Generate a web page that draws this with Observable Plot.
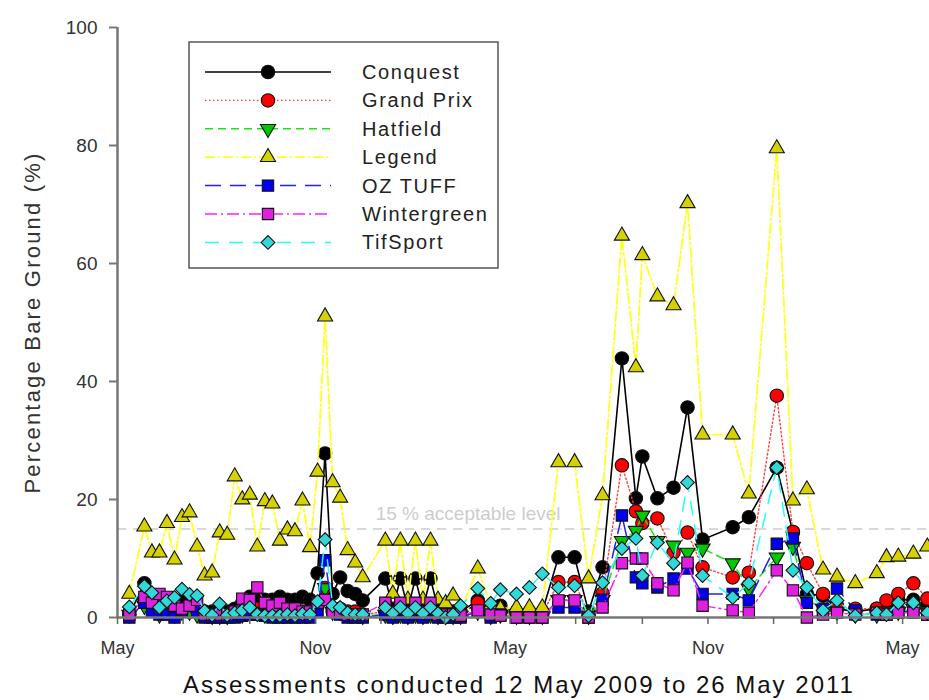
<!DOCTYPE html>
<html>
<head>
<meta charset="utf-8">
<script src="https://cdn.jsdelivr.net/npm/d3@7"></script>
<script src="https://cdn.jsdelivr.net/npm/@observablehq/plot@0.6"></script>
<style>
  body { margin: 0; background: #fff; font-family: "Liberation Sans", Arial, sans-serif; }
  #wrap { position: relative; width: 929px; height: 700px; overflow: hidden; }
  #caption { position: absolute; left: 183px; top: 671px; font-size: 24px; letter-spacing: 2px; color: #111; white-space: nowrap; }
</style>
</head>
<body>
<div id="wrap">
  <div id="chart"></div>
  <div id="caption">Assessments conducted 12 May 2009 to 26 May 2011</div>
</div>
<script>
// assessment dates
const dates = [
  "2009-05-12", "2009-05-26", "2009-06-02", "2009-06-09", "2009-06-16", "2009-06-23", "2009-06-30",
  "2009-07-07", "2009-07-14", "2009-07-21", "2009-07-28", "2009-08-04", "2009-08-11", "2009-08-18",
  "2009-08-25", "2009-09-01", "2009-09-08", "2009-09-15", "2009-09-22", "2009-09-29", "2009-10-06",
  "2009-10-13", "2009-10-20", "2009-10-27", "2009-11-03", "2009-11-10", "2009-11-17", "2009-11-24",
  "2009-12-01", "2009-12-08", "2009-12-15",
  "2010-01-05", "2010-01-12", "2010-01-19", "2010-01-26", "2010-02-02", "2010-02-09", "2010-02-16",
  "2010-02-23", "2010-03-02", "2010-03-09", "2010-03-16",
  "2010-04-01", "2010-04-13", "2010-04-22", "2010-05-07", "2010-05-19", "2010-05-31", "2010-06-15",
  "2010-06-30", "2010-07-13", "2010-07-26", "2010-08-13", "2010-08-26", "2010-09-01", "2010-09-15",
  "2010-09-30", "2010-10-13", "2010-10-27", "2010-11-24", "2010-12-09", "2011-01-04", "2011-01-19",
  "2011-02-01", "2011-02-16", "2011-03-01", "2011-03-18", "2011-04-07", "2011-04-16", "2011-04-27",
  "2011-05-11", "2011-05-24"
]

// percentage bare ground per cultivar
const conquest = [
  0.5, 5.8, 3, 1, 1.5, 2, 3, 2.5, 1.5, 1, 1, 1.5, 1, 1.5, 2.5, 3.5, 3.5, 3, 3, 3.5, 3, 3, 3.5, 3, 7.5, 27.8, 4, 6.8, 4.5, 4, 2.9,
  6.6, 1.5, 6.6, 1.5, 6.6, 1.5, 6.6, 1.5, 1, 1, 1,
  2.9, 1, 2, 1, 1, 1, 10.2, 10.2, 1, 8.5, 43.9, 20.2, 27.3, 20.2, 22, 35.6, 13.2, 15.3, 17, 25.4, 14.5, 4, 3.7, 1.5, 1, 1.5, 2, 3, 3, 2
]
const grandPrix = [
  0.5, 3, 2, 1, 1, 1, 1.5, 1, 1, 0.5, 0.5, 0.5, 0.5, 1, 1, 1.5, 1.5, 1, 1, 1, 1, 1, 1, 1, 2, 5, 1, 1.5, 1, 1, 0.5,
  1, 0.5, 1, 0.5, 1, 0.5, 1, 0.5, 0.5, 0.5, 0.5,
  2.5, 0.5, 1, 0.5, 0.5, 0.5, 6, 6, 0.5, 4.1, 25.8, 18, 16, 16.8, 11, 14.4, 8.5, 6.8, 7.6, 37.6, 14.5, 9.2, 4, 2, 1.5, 1.5, 2.9, 4, 5.8, 3.2
]
const hatfield = [
  0.5, 2, 1.5, 0.5, 1, 0.5, 1, 1, 0.5, 0.5, 0.3, 0.3, 0.3, 0.5, 0.5, 1, 1, 0.5, 0.5, 0.5, 0.5, 0.5, 0.5, 0.5, 1.5, 5, 1, 1, 0.5, 0.5, 0.3,
  0.5, 0.3, 0.5, 0.3, 0.5, 0.3, 0.5, 0.3, 0.3, 0.3, 0.3,
  1, 0.3, 0.5, 0.3, 0.3, 0.3, 3, 3, 0.3, 3, 13, 14.7, 17.3, 13, 12.2, 11, 11.7, 9.2, 4.9, 10.2, 12, 3, 1.5, 1, 0.5, 0.5, 1, 1, 1.5, 1
]
const legend = [
  4, 15.4, 11, 11, 16, 9.8, 17, 17.8, 12, 7.1, 7.6, 14.4, 14, 23.9, 20, 20.8, 12, 19.7, 19.3, 13, 14.9, 14.6, 19.8, 11.9, 24.7, 51, 22.9, 20.3, 11.4, 9.3, 6.8,
  13, 4, 13, 3, 13, 3, 13, 3, 2.4, 3.7, 1,
  8.3, 2, 1.5, 1.7, 1.7, 1.7, 26.3, 26.3, 6.6, 20.7, 64.7, 42.4, 61.4, 54.4, 52.9, 70.2, 31, 31, 21, 79.5, 19.8, 21.7, 8.1, 6.9, 5.8, 7.5, 10.2, 10.3, 10.8, 12
]
const ozTuff = [
  0, 2.5, 1, 0.5, 0.5, 0, 1.2, 2, 1, 0, 0, 0, 0, 0, 0.3, 0.5, 0.5, 0.3, 0, 0, 0, 0, 0, 0, 1, 9.7, 1, 0.5, 0, 0, 0,
  0.5, 0, 0.5, 0, 0.5, 0, 0.5, 0, 0, 0, 0,
  1, 0, 0.5, 0, 0, 0, 1.7, 1.7, 0, 3, 17.3, 6.8, 5.8, 5.1, 6.6, 8.3, 4, 4, 2.9, 12.5, 13.4, 2.5, 1.5, 4.9, 1.2, 0.5, 0.5, 1, 1, 0.5
]
const wintergreen = [
  0.5, 3.5, 2.5, 4, 3.5, 2, 1.5, 2, 3, 0.5, 0.5, 0.5, 0.5, 1, 3.2, 3, 5.1, 2.5, 2, 2.5, 1.5, 1.5, 1, 1, 2.5, 3, 1, 1, 0.5, 0.5, 0.5,
  2.5, 1, 2.5, 1, 2.5, 1, 2.5, 0.5, 0.5, 0.5, 0.3,
  1.2, 0.5, 0.3, 0, 0, 0, 2.9, 2.9, 0, 1.7, 9.2, 10, 10, 5.8, 4.6, 9.3, 2, 1.2, 0.8, 8, 4.6, 0, 0.5, 0.8, 0.5, 0.8, 0.5, 0.8, 0.8, 0.5
]
const tifSport = [
  1.8, 5.3, 4.2, 1.7, 2.8, 3.4, 4.8, 3.9, 3.7, 1.1, 0.4, 2.3, 0.4, 0.8, 1.2, 1.7, 0.5, 0.3, 0.3, 0.3, 0.5, 0.3, 0.6, 0.5, 2.7, 13.2, 2, 1.7, 0.8, 0.5, 0.5,
  1.7, 0.7, 1.7, 0.7, 1.7, 0.7, 1.7, 0.7, 0, 0.5, 2,
  4.9, 2.4, 4.7, 4, 5.1, 7.4, 5.1, 5.4, 0.3, 5.9, 11.7, 13.4, 7.1, 12.7, 9.2, 22.9, 7.1, 3.4, 5.8, 25.4, 8, 5.1, 1.2, 2.9, 0.3, 0.8, 0.5, 2.5, 2.5, 0.8
]

const yTicks = [0, 20, 40, 60, 80, 100]
const refLevel = 15
const refText = '15 % acceptable level'
const refTextDate = '2010-03-23'

// down-pointing triangle (d3 has only the upward one)
const triangleDown = {
  draw(ctx, size) {
    const s3 = Math.sqrt(3)
    const y = -Math.sqrt(size / (s3 * 3))
    ctx.moveTo(0, -y * 2)
    ctx.lineTo(-s3 * y, y)
    ctx.lineTo(s3 * y, y)
    ctx.closePath()
  },
}

const series = [
  { name: 'Conquest', values: conquest, line: '#000', dash: null, width: 1.6, fill: '#000', symbol: d3.symbolCircle, r: 6.7 },
  { name: 'Grand Prix', values: grandPrix, line: '#ff4040', dash: '1.5,2.5', width: 1.4, fill: '#ff0000', symbol: d3.symbolCircle, r: 6.7 },
  { name: 'Hatfield', values: hatfield, line: '#22dd22', dash: '8,5', width: 1.5, fill: '#00c800', symbol: triangleDown, r: 5.6 },
  { name: 'Legend', values: legend, line: '#ffff20', dash: '10,3,2,3', width: 1.8, fill: '#d6d200', symbol: d3.symbolTriangle, r: 5.6 },
  { name: 'OZ TUFF', values: ozTuff, line: '#2020ff', dash: '16,9', width: 1.5, fill: '#0000ee', symbol: d3.symbolSquare, r: 6.4 },
  { name: 'Wintergreen', values: wintergreen, line: '#ff20ff', dash: '12,4,2,4', width: 1.5, fill: '#e020e0', symbol: d3.symbolSquare, r: 6.4 },
  { name: 'TifSport', values: tifSport, line: '#20ffff', dash: '14,10', width: 1.5, fill: '#30d8d8', symbol: d3.symbolDiamond2, r: 6.2 },
]

const parsed = dates.map(d => new Date(d))
const xStart = new Date('2009-05-01')
const xEnd = new Date('2011-05-26')

const marks = [
  Plot.ruleY([refLevel], { stroke: '#d8d8d8', strokeWidth: 2, strokeDasharray: '9,7' }),
  Plot.text([{ date: new Date(refTextDate), value: refLevel }], {
    x: 'date', y: 'value', text: () => refText, dy: -15, fill: '#cdcdcd', fontSize: 19,
    letterSpacing: '1.8px',
  }),
]
for (const s of series) {
  const rows = parsed.map((d, i) => ({ date: d, value: s.values[i] }))
  marks.push(
    Plot.line(rows, {
      x: 'date', y: 'value', stroke: s.line, strokeWidth: s.width,
      strokeDasharray: s.dash, curve: 'linear',
    }),
    Plot.dot(rows, {
      x: 'date', y: 'value', symbol: () => s.symbol, r: s.r,
      fill: s.fill, stroke: '#111', strokeWidth: 1.1,
    }),
  )
}

const chart = Plot.plot({
  width: 929,
  height: 670,
  marginLeft: 117,
  marginRight: 0,
  marginTop: 27,
  marginBottom: 53,
  style: { fontFamily: '"Liberation Sans", Arial, sans-serif', background: '#fff' },
  x: { type: 'utc', domain: [xStart, xEnd] },
  y: { domain: [0, 100] },
  symbol: { type: 'identity' },
  marks: [
    ...marks,
    Plot.ruleY([0], { stroke: '#777', strokeWidth: 2.5 }),
    Plot.ruleX([xStart], { stroke: '#777', strokeWidth: 2.5 }),
    Plot.axisY({
      ticks: yTicks, tickSize: 8, tickPadding: 12, fontSize: 19,
      stroke: '#777', strokeWidth: 2, fill: '#333', label: null,
    }),
    Plot.axisX({
      ticks: d3.utcMonths(xStart, xEnd, 2), tickSize: 7, tickPadding: 17, fontSize: 18,
      stroke: '#666', strokeWidth: 1.5, fill: '#333', label: null,
      tickFormat: d => (d.getUTCMonth() === 4 ? 'May' : d.getUTCMonth() === 10 ? 'Nov' : ''),
    }),
    Plot.text(['Percentage Bare Ground (%)'], {
      frameAnchor: 'left', textAnchor: 'middle', rotate: -90, dx: -85, text: d => d,
      fontSize: 22, fill: '#333',
    }),
  ],
})

// legend box
const svg = d3.select(chart)
svg.selectAll('text').filter(function () { return this.textContent === 'Percentage Bare Ground (%)' })
  .attr('letter-spacing', '2.2px')
const lg = svg.append('g').attr('transform', 'translate(189,42)')
lg.append('rect').attr('width', 309).attr('height', 226)
  .attr('fill', '#fff').attr('stroke', '#555').attr('stroke-width', 1.5)
series.forEach((s, i) => {
  const y = 30 + i * 28.4
  lg.append('line').attr('x1', 16).attr('x2', 142).attr('y1', y).attr('y2', y)
    .attr('stroke', s.line).attr('stroke-width', s.width)
    .attr('stroke-dasharray', s.dash)
  lg.append('path')
    .attr('d', d3.symbol(s.symbol, Math.PI * s.r * s.r)())
    .attr('transform', `translate(79,${y})`)
    .attr('fill', s.fill).attr('stroke', '#111').attr('stroke-width', 1.1)
  lg.append('text').attr('x', 173).attr('y', y).attr('dy', '0.35em')
    .attr('text-anchor', 'start').attr('letter-spacing', '1.6px')
    .attr('font-size', 20).attr('fill', '#222').text(s.name)
})

d3.select('#chart').append(() => chart)
</script>
</body>
</html>
